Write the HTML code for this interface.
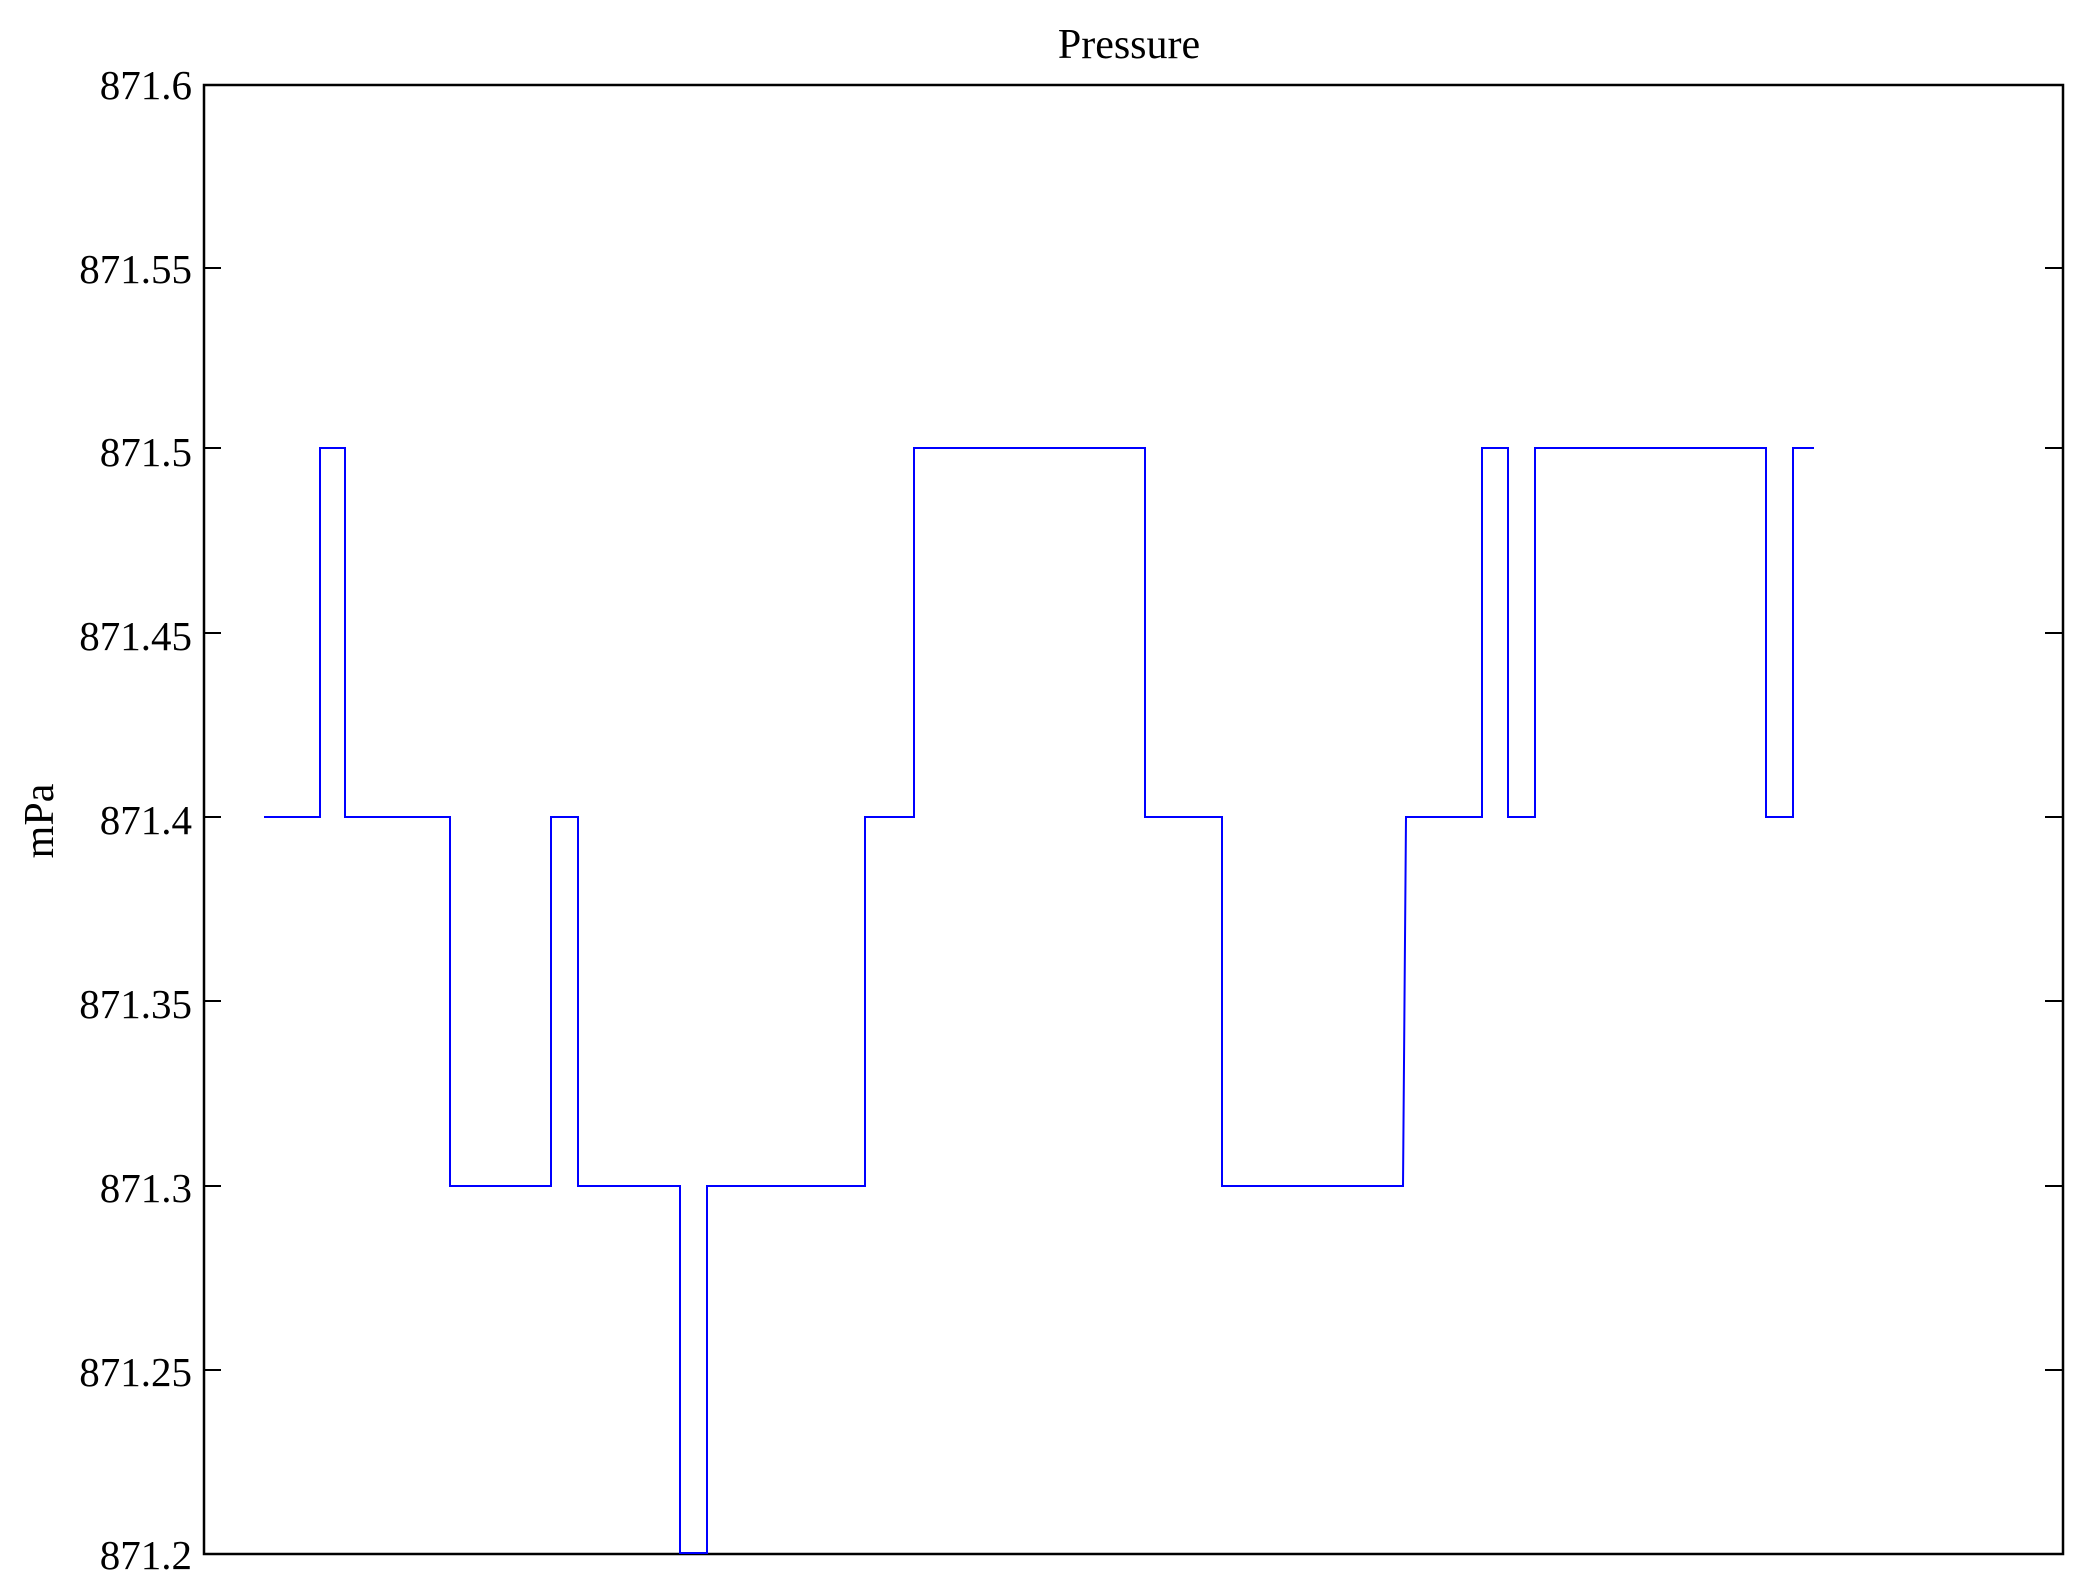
<!DOCTYPE html>
<html><head><meta charset="utf-8"><style>html,body{margin:0;padding:0;background:#fff}svg{display:block}</style></head>
<body>
<svg width="2083" height="1579" viewBox="0 0 2083 1579" xmlns="http://www.w3.org/2000/svg" font-family="Liberation Serif, serif">
<rect width="2083" height="1579" fill="#fff"/>
<text x="1129" y="58" font-size="42" text-anchor="middle">Pressure</text>
<text transform="translate(53,821) rotate(-90)" font-size="42" text-anchor="middle">mPa</text>
<g font-size="41" text-anchor="end">
<text x="192" y="99">871.6</text>
<text x="192" y="283">871.55</text>
<text x="192" y="466">871.5</text>
<text x="192" y="650">871.45</text>
<text x="192" y="834">871.4</text>
<text x="192" y="1018">871.35</text>
<text x="192" y="1202">871.3</text>
<text x="192" y="1386">871.25</text>
<text x="192" y="1569">871.2</text>
</g>
<g stroke="#000" stroke-width="2">
<path d="M203,268h18M203,448h18M203,633h18M203,817h18M203,1001h18M203,1186h18M203,1370h18"/>
<path d="M2063,268h-18M2063,448h-18M2063,633h-18M2063,817h-18M2063,1001h-18M2063,1186h-18M2063,1370h-18"/>
</g>
<rect x="204" y="85" width="1859" height="1469" fill="none" stroke="#000" stroke-width="2.5"/>
<path fill="none" stroke="#0000ff" stroke-width="2" d="M264,817H320V448H345V817H450V1186H551V817H578V1186H680V1553H707V1186H865V817H914V448H1145V817H1222V1186H1403L1406,817H1482V448H1508V817H1535V448H1766V817H1793V448H1814"/>
</svg>
</body></html>
